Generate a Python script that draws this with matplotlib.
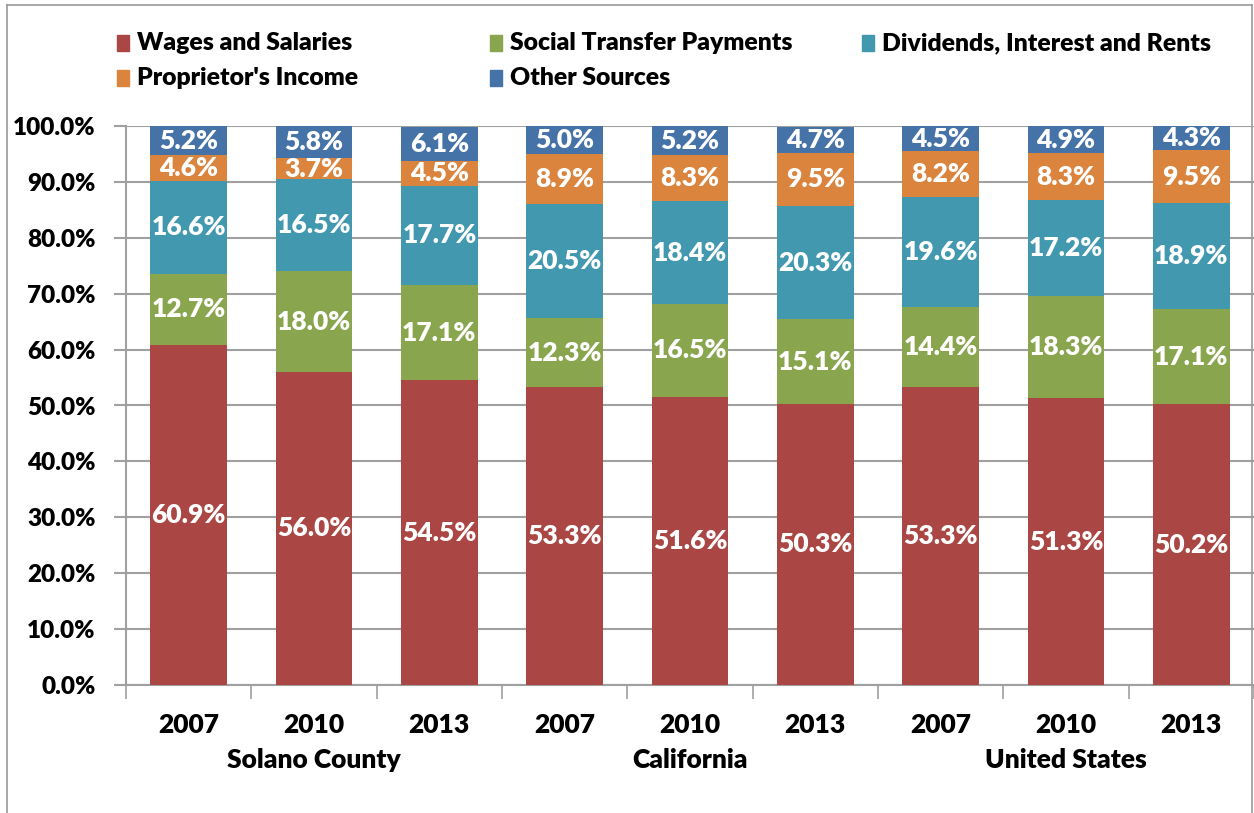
import matplotlib
matplotlib.use("Agg")
import matplotlib.pyplot as plt
from matplotlib.lines import Line2D
from matplotlib.patches import Rectangle
import numpy as np

plt.rcParams['font.family'] = ['Lato', 'DejaVu Sans']

# 数据
years = ['2007', '2010', '2013'] * 3
regions = ['Solano County', 'California', 'United States']
series_names = ['Wages and Salaries', 'Social Transfer Payments', 'Dividends, Interest and Rents',
                "Proprietor's Income", 'Other Sources']
wages = [60.9, 56.0, 54.5, 53.3, 51.6, 50.3, 53.3, 51.3, 50.2]
social = [12.7, 18.0, 17.1, 12.3, 16.5, 15.1, 14.4, 18.3, 17.1]
dividends = [16.6, 16.5, 17.7, 20.5, 18.4, 20.3, 19.6, 17.2, 18.9]
proprietor = [4.6, 3.7, 4.5, 8.9, 8.3, 9.5, 8.2, 8.3, 9.5]
other = [5.2, 5.8, 6.1, 5.0, 5.2, 4.7, 4.5, 4.9, 4.3]
colors = ['#AA4643', '#89A54E', '#4198AF', '#DB843D', '#4572A7']

W, H = 1254, 813
FS = 19
WT = 'heavy'

fig = plt.figure(figsize=(W / 100, H / 100), dpi=100)
ax = fig.add_axes([126 / W, 1 - 685 / H, 1 - 126 / W, (685 - 126) / H])

x = np.arange(len(years))
bottom = np.zeros(len(years))
for vals, c in zip([wages, social, dividends, proprietor, other], colors):
    vals = np.array(vals)
    ax.bar(x, vals, bottom=bottom, width=0.61, color=c, zorder=3)
    for xi, b, v in zip(x, bottom, vals):
        ax.text(xi, b + v / 2, f'{v:.1f}%', ha='center', va='center', color='white',
                fontsize=FS, fontweight=WT, zorder=4)
    bottom += vals

ax.set_xlim(-0.5, len(years) - 0.5)
ax.set_ylim(0, 100)
ax.set_yticks(np.arange(0, 101, 10))
ax.set_yticklabels([f'{v:.1f}%' for v in range(0, 101, 10)], fontsize=17.5, fontweight=WT)
ax.yaxis.grid(True, color='#A0A0A0', linewidth=1.5, zorder=0)
ax.tick_params(axis='y', length=9, width=1.5, color='#A0A0A0', pad=13)

# x轴: 年份标签, 刻度在类别边界
ax.set_xticks(x)
ax.set_xticklabels(years, fontsize=FS, fontweight=WT)
ax.tick_params(axis='x', length=0, pad=20)
ax.set_xticks(np.arange(-0.5, len(years), 1), minor=True)
ax.tick_params(axis='x', which='minor', length=10, width=1.2, color='#A0A0A0')
for i, r in enumerate(regions):
    ax.text(3 * i + 1, -13.5, r, ha='center', va='center', fontsize=FS, fontweight=WT)

for s in ['top', 'right']:
    ax.spines[s].set_visible(False)
for s in ['left', 'bottom']:
    ax.spines[s].set_color('#A0A0A0')
    ax.spines[s].set_linewidth(1.5)

# 图例 (手动摆放, 按行)
leg_pos = [(117, 43), (490, 43), (862, 43), (117, 78), (490, 78)]
for (lx, ly), name, c in zip(leg_pos, series_names, colors):
    fig.add_artist(Rectangle((lx / W, 1 - (ly + 8) / H), 12 / W, 16 / H, color=c,
                             transform=fig.transFigure))
    fig.text((lx + 20) / W, 1 - ly / H, name, ha='left', va='center',
             fontsize=17.8, fontweight=WT)

# 外框
fig.add_artist(Line2D([7 / W, 7 / W], [0, 1 - 5 / H], color='#999999', lw=1.2))
fig.add_artist(Line2D([7 / W, 1252 / W], [1 - 5 / H, 1 - 5 / H], color='#999999', lw=1.2))
fig.add_artist(Line2D([1252 / W, 1252 / W], [0, 1 - 5 / H], color='#999999', lw=1.2))

fig.savefig('out.png', dpi=100)
